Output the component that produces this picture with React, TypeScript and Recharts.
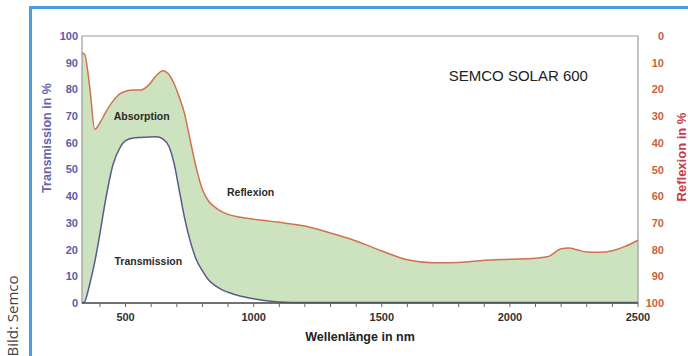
import React from 'react';
import {
  ComposedChart,
  Area,
  Line,
  XAxis,
  YAxis,
  ReferenceArea,
  ReferenceDot,
} from 'recharts';

// wavelength grid (nm)
const wavelengths = [
  330, 340, 360, 380, 400, 420, 450, 480, 500, 530, 560, 590, 620, 645, 670, 690,
  710, 730, 750, 775, 800, 825, 850, 875, 900, 950, 1000, 1050, 1100, 1200, 1300,
  1400, 1500, 1600, 1700, 1800, 1900, 2000, 2100, 2150, 2200, 2230, 2260, 2300,
  2350, 2400, 2450, 2500,
];

// Transmission in % (left axis)
const transmission = [
  0, 0.5, 7, 15.5, 26, 37.5, 51.5, 58.5, 60.8, 61.8, 62, 62.2, 62.3, 61.5, 58.5, 52,
  42, 32, 24, 16.5, 12, 8.5, 6.5, 5, 4, 2.5, 1.6, 0.8, 0.4, 0.2, 0.2,
  0.2, 0.2, 0.2, 0.2, 0.2, 0.2, 0.2, 0.2, 0.2, 0.2, 0.2, 0.2, 0.2,
  0.2, 0.2, 0.2, 0.2,
];

// Reflexion in % (right axis, reversed)
const reflexion = [
  6.5, 6.8, 19, 35, 32.5, 29, 24.5, 21.5, 20.7, 20.2, 20.2, 18.4, 14.8, 13, 14.5, 18,
  23, 29, 38, 49, 57.5, 62, 64.2, 65.8, 66.8, 67.9, 68.6, 69.2, 69.8, 71.2, 73.8,
  76.8, 80.5, 83.8, 84.9, 84.8, 84, 83.6, 83.2, 82.6, 79.7, 79.4, 80, 80.9,
  81, 80.4, 78.8, 76.5,
];

const xTicks = [
  400, 500, 600, 700, 800, 900, 1000, 1100, 1200, 1300, 1400, 1500, 1600, 1700,
  1800, 1900, 2000, 2100, 2200, 2300, 2400, 2500,
];
const yTicks = [0, 10, 20, 30, 40, 50, 60, 70, 80, 90, 100];

const data = wavelengths.map((w, i) => ({
  w,
  t: transmission[i],
  r: reflexion[i],
  band: [transmission[i], 100 - reflexion[i]],
}));

const FONT = '"Liberation Sans", Arial, sans-serif';
const BLUE = '#5b5ba6';
const RED = '#d0603c';

function RightTick({ x, y, payload }: any) {
  return (
    <text x={x + 18} y={y} dy={4} textAnchor="end" fill={RED} fontSize={11} fontWeight="bold" fontFamily={FONT}>
      {payload.value}
    </text>
  );
}

const noteStyle = { fill: '#2a2a2a', fontSize: 10.5, fontWeight: 'bold', fontFamily: FONT };

export default function App() {
  return (
    <div style={{ position: 'absolute', left: 0, top: 0, width: 688, height: 356, background: '#fff', overflow: 'hidden', fontFamily: FONT }}>
      <div style={{ position: 'absolute', left: 29, top: 6, width: 720, height: 420, border: '3px solid #4a9de0', boxSizing: 'border-box' }} />
      <ComposedChart
        width={688}
        height={356}
        data={data}
        margin={{ top: 36, right: 0, left: 30, bottom: 23 }}
      >
        <XAxis
          dataKey="w"
          type="number"
          domain={[330, 2500]}
          ticks={xTicks}
          tickFormatter={(v) => (v % 500 === 0 ? String(v) : '')}
          height={30}
          stroke="#555"
          axisLine={{ stroke: '#555', strokeWidth: 1.5 }}
          tickLine={{ stroke: '#666' }}
          tickSize={4}
          tickMargin={6}
          tick={{ fill: '#333', fontSize: 11, fontWeight: 'bold', fontFamily: FONT }}
        />
        <YAxis
          yAxisId="left"
          domain={[0, 100]}
          ticks={yTicks}
          width={52}
          axisLine={false}
          tickLine={false}
          tickSize={2}
          tickMargin={2}
          tick={{ fill: BLUE, fontSize: 11, fontWeight: 'bold', fontFamily: FONT }}
        />
        <YAxis
          yAxisId="right"
          orientation="right"
          reversed
          domain={[0, 100]}
          ticks={yTicks}
          width={50}
          axisLine={false}
          tickLine={false}
          tick={<RightTick />}
        />
        <Area
          yAxisId="left"
          dataKey="band"
          type="monotone"
          fill="#cde2bf"
          fillOpacity={1}
          stroke="none"
          isAnimationActive={false}
        />
        <Line
          yAxisId="left"
          dataKey="t"
          type="monotone"
          stroke="#575c8c"
          strokeWidth={1.5}
          dot={false}
          isAnimationActive={false}
        />
        <Line
          yAxisId="right"
          dataKey="r"
          type="monotone"
          stroke="#d0724e"
          strokeWidth={1.5}
          dot={false}
          isAnimationActive={false}
        />
        <ReferenceArea
          yAxisId="left"
          x1={330}
          x2={2500}
          y1={0}
          y2={100}
          fill="none"
          stroke="#999"
          strokeWidth={1.2}
        />
        <ReferenceDot yAxisId="left" x={563} y={70} r={0} label={{ value: 'Absorption', position: 'center', ...noteStyle }} />
        <ReferenceDot yAxisId="left" x={988} y={41.3} r={0} label={{ value: 'Reflexion', position: 'center', ...noteStyle }} />
        <ReferenceDot yAxisId="left" x={589} y={15.8} r={0} label={{ value: 'Transmission', position: 'center', ...noteStyle }} />
        <ReferenceDot
          yAxisId="left"
          x={2033}
          y={85}
          r={0}
          label={{ value: 'SEMCO SOLAR 600', position: 'center', fill: '#222', fontSize: 15, fontFamily: FONT }}
        />
      </ComposedChart>
      <div style={{ position: 'absolute', left: 300, top: 330, width: 120, textAlign: 'center', fontSize: 12.5, fontWeight: 'bold', color: '#222' }}>
        Wellenlänge in nm
      </div>
      <div style={{ position: 'absolute', left: 47, top: 138, transform: 'translate(-50%, -50%) rotate(-90deg)', whiteSpace: 'nowrap', fontSize: 12.5, fontWeight: 'bold', color: '#6464aa' }}>
        Transmission in %
      </div>
      <div style={{ position: 'absolute', left: 681, top: 157, transform: 'translate(-50%, -50%) rotate(-90deg)', whiteSpace: 'nowrap', fontSize: 13, fontWeight: 'bold', color: '#c83a4a' }}>
        Reflexion in %
      </div>
      <div style={{ position: 'absolute', left: 12, top: 316, transform: 'translate(-50%, -50%) rotate(-90deg)', whiteSpace: 'nowrap', fontSize: 15, color: '#444', fontFamily: '"Open Sans", sans-serif' }}>
        Bild: Semco
      </div>
    </div>
  );
}
